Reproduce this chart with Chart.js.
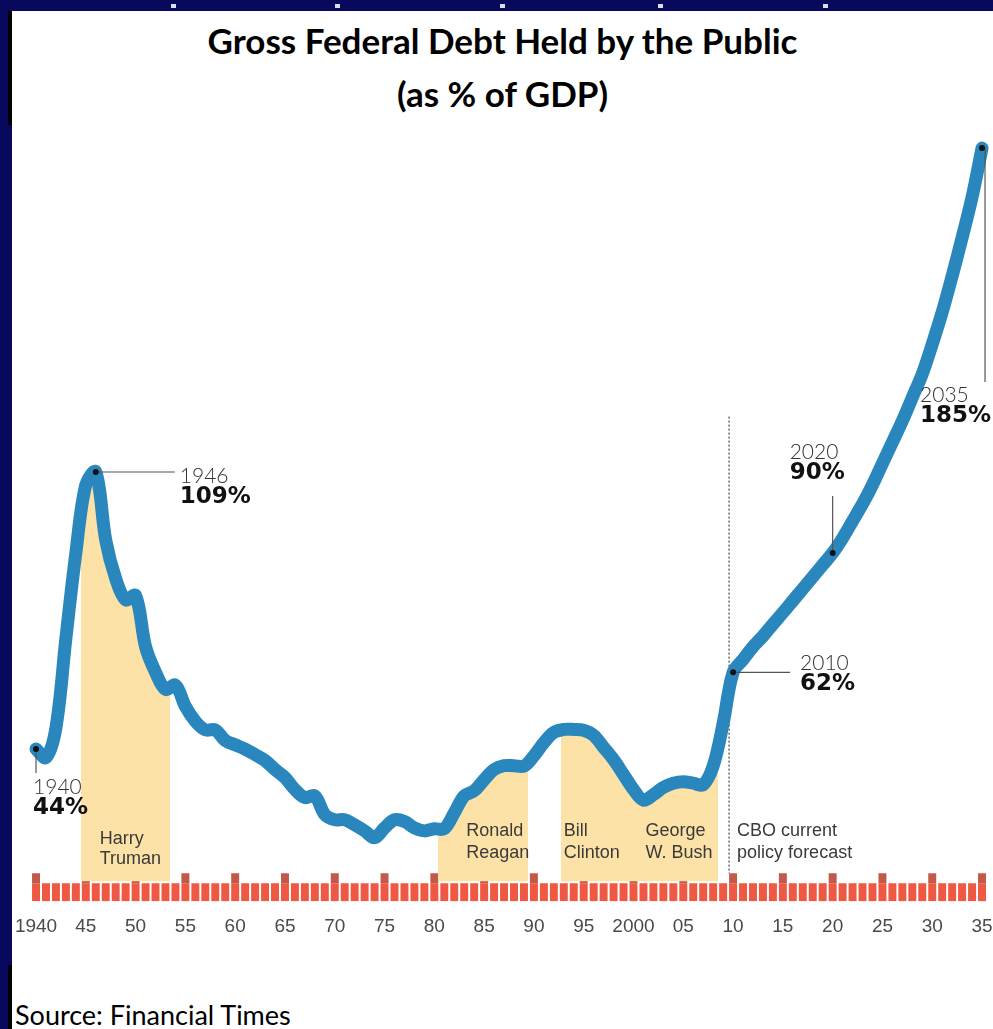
<!DOCTYPE html>
<html>
<head>
<meta charset="utf-8">
<title>Gross Federal Debt Held by the Public</title>
<script src="https://cdn.jsdelivr.net/npm/chart.js@4.4.1/dist/chart.umd.min.js"></script>
<style>
  html, body { margin: 0; padding: 0; }
  body { width: 993px; height: 1029px; background: #08085c; position: relative; overflow: hidden; }
  .pin { position: absolute; top: 4px; width: 5px; height: 4px; background: #dcdcea; }
  #sheet { position: absolute; left: 12px; top: 11px; width: 981px; height: 1018px; background: #fff; }
  .edge { position: absolute; left: -4px; width: 4px; background: #000; }
  .head { position: absolute; left: 0; width: 981px; text-align: center; font: bold 35px Lato, "Liberation Sans", sans-serif; line-height: 40px; color: #000; }
  #plot { position: absolute; left: 0; top: 114px; width: 981px; height: 840px; }
  #source { position: absolute; left: 3px; top: 989px; font: 27px Lato, "Liberation Sans", sans-serif; line-height: 30px; color: #000; }
</style>
</head>
<body>
<div class="pin" style="left:171px"></div>
<div class="pin" style="left:335px"></div>
<div class="pin" style="left:500px"></div>
<div class="pin" style="left:658px"></div>
<div class="pin" style="left:823px"></div>
<div id="sheet">
  <div class="edge" style="top:0;height:114px"></div>
  <div class="edge" style="top:954px;height:64px"></div>
  <div class="head" style="top:9px">Gross Federal Debt Held by the Public</div>
  <div class="head" style="top:62px">(as % of GDP)</div>
  <div id="plot"><canvas id="debt" width="981" height="840"></canvas></div>
  <div id="source">Source: Financial Times</div>
</div>
<script>
// debt held by the public, % of GDP (2010 onwards is the CBO forecast)
const years = [
  1940, 1941, 1942, 1943, 1944, 1945, 1946, 1947, 1948, 1949,
  1950, 1951, 1952, 1953, 1954, 1955, 1956, 1957, 1958, 1959,
  1960, 1961, 1962, 1963, 1964, 1965, 1966, 1967, 1968, 1969,
  1970, 1971, 1972, 1973, 1974, 1975, 1976, 1977, 1978, 1979,
  1980, 1981, 1982, 1983, 1984, 1985, 1986, 1987, 1988, 1989,
  1990, 1991, 1992, 1993, 1994, 1995, 1996, 1997, 1998, 1999,
  2000, 2001, 2002, 2003, 2004, 2005, 2006, 2007, 2008, 2009,
  2010, 2011, 2012, 2013, 2014, 2015, 2016, 2017, 2018, 2019,
  2020, 2021, 2022, 2023, 2024, 2025, 2026, 2027, 2028, 2029,
  2030, 2031, 2032, 2033, 2034, 2035
];
const debtPct = [
  44, 42, 49, 70, 90, 106, 109, 93, 84, 79,
  80, 68, 62, 58, 59, 54, 50.5, 48.5, 48.5, 46,
  45, 44, 42.7, 41.3, 39.2, 37.3, 34.5, 32.6, 33, 28.6,
  27.4, 27.4, 26.2, 24.8, 23.2, 25.5, 27.4, 27, 25.5, 24.8,
  25.3, 25.3, 29, 33, 34.2, 36.8, 39.2, 40.1, 40.1, 40,
  42.4, 45.5, 47.9, 48.6, 48.6, 48.4, 47.2, 44.4, 41.5, 38,
  34.5, 32, 33.3, 35, 36, 36.3, 36, 35.6, 40, 50,
  62, 65, 68, 70.5, 73.3, 76, 78.8, 81.6, 84.4, 87.2,
  90, 93.5, 97.5, 101.5, 106, 111, 116, 121, 126.5, 132,
  139, 146.5, 155, 164, 173.5, 185
];

const tickYears = [1940, 1945, 1950, 1955, 1960, 1965, 1970, 1975, 1980, 1985, 1990,
  1995, 2000, 2005, 2010, 2015, 2020, 2025, 2030, 2035];
const tickLabels = ['1940', '45', '50', '55', '60', '65', '70', '75', '80', '85', '90',
  '95', '2000', '05', '10', '15', '20', '25', '30', '35'];

// presidencies shaded under the curve
const termNames = [['Harry', 'Truman'], ['Ronald', 'Reagan'], ['Bill', 'Clinton'], ['George', 'W. Bush']];
const termStart = [1944.5, 1980.4, 1992.7, 2000.9];
const termEnd = [1953.5, 1989.45, 2000.9, 2008.45];

const forecastFrom = 2009.6;
const forecastNote = ['CBO current', 'policy forecast'];
const noteYears = [1940, 1946, 2010, 2020, 2035];

const BLUE = '#2a87bd';
const SHADE = 'rgba(252, 226, 166, 1)';
const CLEAR = 'rgba(252, 226, 166, 0)';
const RULER = '#ef5943';
const RULER_CAP = '#c25a4c';
const MINOR_H = 18, MAJOR_H = 28;

// leader line [x1, y1, x2, y2] and text anchor, in px from the point
const noteLayout = {
  1940: { lead: [0, 0, 0, 24], at: [-3, 38] },
  1946: { lead: [0, 0, 79, 0], at: [84, 4] },
  2010: { lead: [0, 0, 57, 0], at: [67, -9] },
  2020: { lead: [0, 0, 0, -57], at: [-43, -101] },
  2035: { lead: [3, 0, 3, 234], at: [-62, 247] }
};
const termLabelAt = [1946.4, 1983.2, 1993.0, 2001.2];
const termLabelY = [[-62, -42], [-70, -48], [-70, -48], [-70, -48]];

function termShade(ctx) {
  const chart = ctx.chart;
  const area = chart.chartArea;
  if (!area) return CLEAR;
  const x = chart.scales.x;
  const w = area.right - area.left;
  const g = chart.ctx.createLinearGradient(area.left, 0, area.right, 0);
  const pos = v => Math.min(1, Math.max(0, (x.getPixelForValue(v) - area.left) / w));
  g.addColorStop(0, CLEAR);
  termStart.forEach((s, i) => {
    const a = pos(s), b = pos(termEnd[i]);
    g.addColorStop(a, CLEAR);
    g.addColorStop(a, SHADE);
    g.addColorStop(b, SHADE);
    g.addColorStop(b, CLEAR);
  });
  g.addColorStop(1, CLEAR);
  return g;
}

const isMajor = y => tickYears.includes(y);

const overlay = {
  id: 'overlay',
  beforeDatasetsDraw(chart) {
    const { ctx, chartArea, scales } = chart;
    const fx = scales.x.getPixelForValue(forecastFrom);
    ctx.save();
    ctx.strokeStyle = '#444';
    ctx.lineWidth = 1.2;
    ctx.setLineDash([2, 2]);
    ctx.beginPath();
    ctx.moveTo(fx, scales.y.getPixelForValue(122));
    ctx.lineTo(fx, chartArea.bottom - MAJOR_H);
    ctx.stroke();
    ctx.restore();
  },
  afterDatasetsDraw(chart) {
    const { ctx, chartArea, scales } = chart;
    ctx.save();
    ctx.textAlign = 'left';
    ctx.textBaseline = 'middle';

    // presidency and forecast captions
    ctx.fillStyle = '#3a3a3a';
    ctx.font = '18px "Liberation Sans", Arial, sans-serif';
    termNames.forEach((lines, i) => {
      const px = scales.x.getPixelForValue(termLabelAt[i]);
      lines.forEach((t, j) => ctx.fillText(t, px, chartArea.bottom + termLabelY[i][j]));
    });
    const cx = scales.x.getPixelForValue(forecastFrom) + 8;
    ctx.fillText(forecastNote[0], cx, chartArea.bottom - 70);
    ctx.fillText(forecastNote[1], cx, chartArea.bottom - 48);

    // labelled points
    noteYears.forEach(yr => {
      const v = debtPct[years.indexOf(yr)];
      const px = scales.x.getPixelForValue(yr);
      const py = scales.y.getPixelForValue(v);
      const L = noteLayout[yr];
      ctx.strokeStyle = '#555';
      ctx.lineWidth = 1.2;
      ctx.setLineDash([]);
      ctx.beginPath();
      ctx.moveTo(px + L.lead[0], py + L.lead[1]);
      ctx.lineTo(px + L.lead[2], py + L.lead[3]);
      ctx.stroke();
      ctx.fillStyle = '#111';
      ctx.beginPath();
      ctx.arc(px, py, 3, 0, Math.PI * 2);
      ctx.fill();
      ctx.fillStyle = '#333';
      ctx.font = '300 21px Lato, "Liberation Sans", sans-serif';
      ctx.fillText(String(yr), px + L.at[0], py + L.at[1]);
      ctx.fillStyle = '#111';
      ctx.font = 'bold 23px "DejaVu Sans", sans-serif';
      ctx.fillText(v + '%', px + L.at[0], py + L.at[1] + 21);
    });
    ctx.restore();
  }
};

new Chart(document.getElementById('debt'), {
  type: 'line',
  data: {
    datasets: [
      {
        label: 'Debt held by the public',
        data: years.map((y, i) => ({ x: y, y: debtPct[i] })),
        borderColor: BLUE,
        borderWidth: 13,
        borderCapStyle: 'round',
        borderJoinStyle: 'round',
        tension: 0.35,
        pointRadius: 0,
        fill: { value: 13 },
        backgroundColor: termShade,
        clip: false
      },
      {
        type: 'bar',
        label: 'major years',
        yAxisID: 'yRuler',
        data: years.filter(isMajor).map(y => ({ x: y, y: [MINOR_H, MAJOR_H] })),
        backgroundColor: RULER_CAP,
        grouped: false,
        barPercentage: 0.8,
        categoryPercentage: 1
      },
      {
        type: 'bar',
        label: 'years',
        yAxisID: 'yRuler',
        data: years.map(y => ({ x: y, y: [0, MINOR_H] })),
        backgroundColor: RULER,
        grouped: false,
        barPercentage: 0.8,
        categoryPercentage: 1
      }
    ]
  },
  options: {
    responsive: false,
    devicePixelRatio: 1,
    animation: false,
    layout: { padding: { left: 6, right: 5, top: 15, bottom: 13 } },
    plugins: {
      legend: { display: false },
      tooltip: { enabled: false },
      title: { display: false }
    },
    scales: {
      x: {
        type: 'linear',
        min: 1938.19,
        max: 2035.6,
        offset: false,
        grid: { display: false, drawTicks: false },
        border: { display: false },
        afterBuildTicks: scale => { scale.ticks = tickYears.map(v => ({ value: v })); },
        // end labels may hang past the plot edges
        afterFit: scale => { scale.paddingLeft = 0; scale.paddingRight = 0; },
        ticks: {
          autoSkip: false,
          maxRotation: 0,
          padding: 14,
          color: '#4a4a4a',
          font: { family: '"Liberation Sans", Arial, sans-serif', size: 19 },
          callback: value => tickLabels[tickYears.indexOf(value)]
        }
      },
      y: { display: false, min: 8.3, max: 186.9 },
      yRuler: { display: false, min: 0, max: 760 }
    }
  },
  plugins: [overlay]
});
</script>
</body>
</html>
